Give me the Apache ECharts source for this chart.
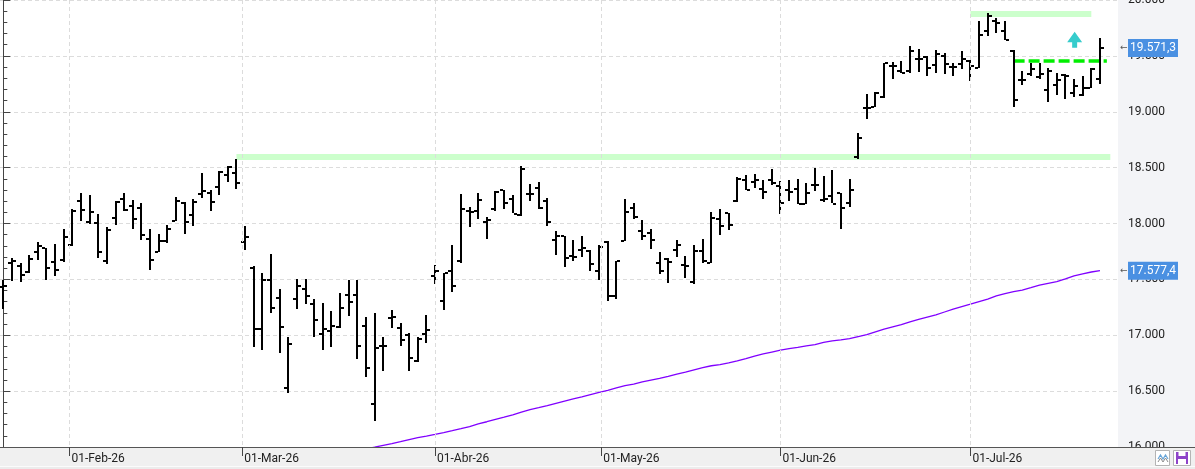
<!DOCTYPE html>
<html>
<head>
<meta charset="utf-8">
<title>Cotización diaria</title>
<script src="https://cdn.jsdelivr.net/npm/echarts@6/dist/echarts.min.js"></script>
<style>
html, body { margin: 0; padding: 0; background: #fff; }
#chart { width: 1195px; height: 469px; }
</style>
</head>
<body>
<div id="chart"></div>
<script>
// sesiones: 21-Ene-26 .. 22-Jul-26 (días hábiles sin festivos)
var firstDay = '2026-01-21';
var lastDay = '2026-07-22';
var holidays = ['2026-04-03', '2026-04-06', '2026-05-01'];
var monthNames = ['Ene', 'Feb', 'Mar', 'Abr', 'May', 'Jun', 'Jul', 'Ago', 'Sep', 'Oct', 'Nov', 'Dic'];

var opens = [17429, 17647, 17620, 17567, 17749, 17785, 17659, 17674, 17806, 18203,
    18009, 18006, 17662, 18051, 18221, 18161, 18140, 17862, 17749, 17839,
    18024, 18182, 18072, 18263, 18275, 18331, 18436, 18448, 17830, 17603,
    17056, 17496, 17334, 16528, 17325, 17415, 17280, 17014, 17039, 17077,
    17364, 17364, 17083, 16384, 16904, 17155, 17065, 17003, 16770, 17014,
    17534, 17307, 17579, 17665, 18110, 18113, 18012, 18131, 18296, 18215,
    18078, 18263, 18319, 18197, 17853, 17889, 17710, 17764, 17758, 17573,
    17836, 17349, 17842, 18140, 17937, 17913, 17647, 17683, 17767, 17629,
    17474, 17758, 17647, 18036, 18095, 18197, 18385, 18373, 18307, 18391,
    18340, 18301, 18310, 18176, 18346, 18212, 18242, 18272, 18185, 18594,
    19036, 19042, 19132, 19407, 19362, 19368, 19475, 19490, 19416, 19496,
    19398, 19425, 19454, 19392, 19723, 19813, 19720, 19544, 19281, 19341,
    19311, 19192, 19242, 19326, 19171, 19147, 19215, 19296];
var highs = [17498, 17692, 17647, 17722, 17830, 17785, 17821, 17955, 18131, 18275,
    18251, 18086, 17973, 18197, 18269, 18206, 18185, 17955, 17907, 17991,
    18233, 18191, 18215, 18454, 18296, 18469, 18517, 18579, 17979, 17624,
    17561, 17723, 17415, 16988, 17507, 17499, 17325, 17292, 17221, 17382,
    17490, 17490, 17167, 17203, 16985, 17227, 17113, 17024, 16985, 17185,
    17633, 17558, 17812, 18263, 18152, 18272, 18057, 18287, 18304, 18251,
    18511, 18352, 18373, 18224, 17937, 17892, 17853, 17892, 17764, 17806,
    17839, 17668, 18221, 18185, 18027, 17952, 17749, 17692, 17848, 17713,
    17809, 17862, 18107, 18131, 18098, 18418, 18430, 18445, 18385, 18490,
    18376, 18391, 18400, 18364, 18499, 18421, 18475, 18275, 18400, 18809,
    19162, 19174, 19436, 19445, 19451, 19586, 19559, 19496, 19556, 19526,
    19439, 19541, 19460, 19810, 19887, 19843, 19813, 19550, 19362, 19436,
    19436, 19395, 19347, 19335, 19296, 19317, 19395, 19663];
var lows = [17235, 17483, 17474, 17558, 17668, 17498, 17534, 17659, 17797, 18027,
    17991, 17689, 17644, 17985, 18104, 17946, 17853, 17585, 17746, 17833,
    18015, 17904, 17976, 18227, 18110, 18257, 18370, 18310, 17764, 16898,
    16874, 17197, 16838, 16489, 17242, 17277, 16982, 16868, 16901, 17071,
    17167, 16785, 16629, 16235, 16683, 17068, 16910, 16683, 16758, 16937,
    17466, 17230, 17393, 17644, 17973, 18036, 17859, 18110, 18137, 18086,
    18060, 18200, 18128, 17973, 17719, 17618, 17668, 17707, 17573, 17489,
    17304, 17325, 17842, 18042, 17848, 17773, 17549, 17468, 17698, 17519,
    17459, 17647, 17647, 17895, 17949, 18197, 18293, 18319, 18218, 18346,
    18077, 18206, 18176, 18176, 18290, 18185, 18176, 17952, 18146, 18579,
    18938, 19036, 19123, 19293, 19341, 19341, 19356, 19317, 19347, 19341,
    19320, 19380, 19275, 19392, 19678, 19708, 19640, 19042, 19236, 19317,
    19290, 19087, 19147, 19108, 19132, 19138, 19215, 19251];
var closes = [17444, 17668, 17543, 17683, 17800, 17603, 17588, 17880, 18116, 18122,
    18104, 17749, 17943, 18194, 18119, 18042, 17898, 17677, 17845, 17949,
    18200, 18015, 18191, 18293, 18194, 18463, 18505, 18364, 17878, 17056,
    17490, 17245, 17074, 16922, 17445, 17352, 17137, 17056, 17083, 17245,
    17298, 16904, 16707, 16886, 16904, 17161, 16958, 16797, 16970, 17047,
    17576, 17558, 17441, 18131, 18101, 18206, 18027, 18284, 18185, 18089,
    18490, 18266, 18137, 18009, 17889, 17695, 17698, 17779, 17638, 17794,
    17349, 17668, 18107, 18057, 17889, 17853, 17579, 17659, 17809, 17620,
    17758, 17662, 18051, 17982, 17991, 18394, 18296, 18385, 18281, 18361,
    18185, 18281, 18176, 18275, 18346, 18221, 18176, 18140, 18296, 18767,
    19036, 19171, 19436, 19410, 19350, 19544, 19475, 19395, 19520, 19430,
    19398, 19472, 19413, 19684, 19855, 19798, 19646, 19108, 19281, 19386,
    19335, 19362, 19281, 19317, 19227, 19215, 19386, 19571.3];

// media móvil larga (empieza bajo el eje)
var maStart = 42;
var maValues = [15982, 15998, 16015, 16030, 16048, 16067, 16084, 16098,
    16113, 16129, 16146, 16164, 16183, 16207, 16226, 16247, 16267, 16288,
    16313, 16335, 16352, 16370, 16391, 16411, 16430, 16449, 16469, 16488,
    16507, 16528, 16549, 16562, 16583, 16599, 16614, 16633, 16653, 16671,
    16691, 16710, 16727, 16738, 16753, 16770, 16791, 16814, 16833, 16850,
    16867, 16880, 16891, 16904, 16917, 16936, 16950, 16958, 16970, 16988,
    17005, 17031, 17055, 17075, 17095, 17120, 17142, 17163, 17183, 17208,
    17233, 17256, 17278, 17301, 17324, 17352, 17373, 17390, 17404, 17426,
    17449, 17465, 17479, 17505, 17532, 17549, 17566, 17577.4];

// niveles dibujados a mano en el gráfico
var supportLevel = 18600;
var topLevel = 19877;
var triggerLevel = 19452;
var yTicks = [16000, 16500, 17000, 17500, 18000, 18500, 19000, 19500, 20000];

function tradingDays() {
    var out = [];
    var d = new Date(firstDay + 'T00:00:00Z');
    var end = Date.parse(lastDay + 'T00:00:00Z');
    while (d.getTime() <= end) {
        var iso = d.toISOString().slice(0, 10);
        var wd = d.getUTCDay();
        if (wd !== 0 && wd !== 6 && holidays.indexOf(iso) < 0) out.push(iso);
        d.setUTCDate(d.getUTCDate() + 1);
    }
    return out;
}

var days = tradingDays();

// marca de mes en el día 1 (interpolada si es festivo/fin de semana)
var monthTicks = [];
var monthLabels = {};
for (var i = 1; i < days.length; i++) {
    if (days[i].slice(5, 7) !== days[i - 1].slice(5, 7)) {
        var cur = Date.parse(days[i]);
        var prev = Date.parse(days[i - 1]);
        var first = Date.parse(days[i].slice(0, 8) + '01');
        var pos = i - (cur - first) / (cur - prev);
        monthTicks.push(pos);
        monthLabels[pos.toFixed(3)] = '01-' + monthNames[+days[i].slice(5, 7) - 1] + '-' + days[i].slice(2, 4);
    }
}

function fmtThousands(v, dec) {
    var neg = v < 0;
    var s = Math.abs(v).toFixed(dec);
    var parts = s.split('.');
    var int = parts[0].replace(/\B(?=(\d{3})+(?!\d))/g, '.');
    return (neg ? '-' : '') + int + (parts[1] ? ',' + parts[1] : '');
}

var ohlc = closes.map(function (c, i) {
    return [i, opens[i], highs[i], lows[i], c];
});
var maData = maValues.map(function (v, k) {
    return [maStart + k, v];
});
var lastClose = closes[closes.length - 1];
var lastMa = maValues[maValues.length - 1];
var xMin = -0.382;
var xMax = 129.09;

function renderOhlc(params, api) {
    var i = api.value(0);
    var top = api.coord([i, api.value(2)]);
    var bot = api.coord([i, api.value(3)]);
    var op = api.coord([i, api.value(1)]);
    var cl = api.coord([i, api.value(4)]);
    var x = Math.round(top[0]);
    var style = { fill: '#000' };
    return {
        type: 'group',
        children: [
            { type: 'rect', shape: { x: x - 1, y: Math.round(top[1]), width: 2, height: Math.max(1, Math.round(bot[1] - top[1])) }, style: style },
            { type: 'rect', shape: { x: x - 4, y: Math.round(op[1]) - 1, width: 3, height: 2 }, style: style },
            { type: 'rect', shape: { x: x + 1, y: Math.round(cl[1]) - 1, width: 3, height: 2 }, style: style }
        ]
    };
}

var graphics = [
    { id: 'panelR', type: 'rect', z: -10, shape: { x: 1118, y: 0, width: 77, height: 447 }, style: { fill: '#f3f4f7' } },
    { id: 'panelB', type: 'rect', z: 50, shape: { x: 0, y: 447.5, width: 1195, height: 19 }, style: { fill: '#f0f0f0' } },
    { id: 'panelB2', type: 'rect', z: 50, shape: { x: 0, y: 466, width: 1195, height: 1 }, style: { fill: '#fbfbfb' } },
    { id: 'panelB3', type: 'rect', z: 50, shape: { x: 0, y: 467, width: 1195, height: 2 }, style: { fill: '#ececec' } },
    { id: 'baseLine', type: 'line', z: 51, shape: { x1: 0, y1: 447.5, x2: 1195, y2: 447.5 }, style: { stroke: '#555', lineWidth: 1 } },
    { id: 'btn1', type: 'rect', z: 51, shape: { x: 1155.5, y: 450.5, width: 14, height: 15 }, style: { fill: '#fff', stroke: '#b4b4b4' } },
    { id: 'btn1a', type: 'polyline', z: 52, shape: { points: [[1158, 459], [1160.5, 455], [1163, 459], [1165.5, 455], [1168, 459]] }, style: { stroke: '#6aa6d8', lineWidth: 1.2, fill: null } },
    { id: 'btn1b', type: 'polyline', z: 52, shape: { points: [[1158, 462], [1160.5, 458], [1163, 462], [1165.5, 458], [1168, 462]] }, style: { stroke: '#8c8c8c', lineWidth: 1, fill: null } },
    { id: 'btn2', type: 'rect', z: 51, shape: { x: 1173.5, y: 450.5, width: 17, height: 15 }, style: { fill: '#fff', stroke: '#b4b4b4' } },
    { id: 'btn2a', type: 'rect', z: 52, shape: { x: 1176, y: 452, width: 12, height: 12 }, style: { fill: '#8e44c9' } },
    { id: 'btn2b', type: 'rect', z: 53, shape: { x: 1178.5, y: 452, width: 7, height: 4 }, style: { fill: '#fff' } },
    { id: 'btn2c', type: 'rect', z: 53, shape: { x: 1178, y: 459, width: 8, height: 5 }, style: { fill: '#fff' } }
];

var myChart = echarts.init(document.getElementById('chart'), null, { renderer: 'canvas' });
var option = {
    animation: false,
    backgroundColor: '#fff',
    textStyle: { fontFamily: 'Roboto' },
    grid: { left: 0, right: 77, top: 0, bottom: 22, outerBoundsMode: 'none', containLabel: false },
    graphic: graphics,
    xAxis: {
        type: 'value',
        z: 60,
        min: xMin,
        max: xMax,
        axisLine: { show: true, lineStyle: { color: '#555' } },
        axisTick: {
            show: true,
            length: 9,
            customValues: monthTicks,
            lineStyle: { color: '#444' }
        },
        axisLabel: {
            customValues: monthTicks,
            align: 'left',
            margin: 6,
            padding: [0, 0, 0, 2],
            color: '#222',
            fontSize: 12,
            fontFamily: 'Roboto',
            formatter: function (v) {
                return monthLabels[v.toFixed(3)] || '';
            }
        },
        splitLine: {
            show: true,
            lineStyle: { color: '#dcdcdc', type: [4, 3] }
        }
    },
    yAxis: {
        type: 'value',
        position: 'right',
        min: 16000,
        max: 20000,
        interval: 500,
        axisLine: { show: true, lineStyle: { color: '#444' } },
        axisTick: { show: true, length: 7, lineStyle: { color: '#444' } },
        minorTick: { show: true, splitNumber: 5, length: 4, lineStyle: { color: '#444' } },
        axisLabel: {
            margin: 10,
            color: '#222',
            fontSize: 12,
            fontFamily: 'Roboto',
            formatter: function (v) {
                return yTicks.indexOf(v) >= 0 ? fmtThousands(v, 0) : '';
            }
        },
        splitLine: {
            show: true,
            lineStyle: { color: '#dcdcdc', type: [4, 3] }
        }
    },
    series: [
        {
            name: 'Precio',
            type: 'custom',
            z: 3,
            renderItem: renderOhlc,
            clip: true,
            encode: { x: 0, y: [1, 2, 3, 4] },
            data: ohlc,
            markLine: {
                silent: true,
                z: 1,
                symbol: ['none', 'none'],
                label: { show: false },
                data: [
                    [
                        { coord: [27, supportLevel], lineStyle: { color: '#ccffcc', width: 6, type: 'solid', cap: 'butt' } },
                        { coord: [128.2, supportLevel] }
                    ],
                    [
                        { coord: [112, topLevel], lineStyle: { color: '#ccffcc', width: 6, type: 'solid', cap: 'butt' } },
                        { coord: [126, topLevel] }
                    ],
                    [
                        { coord: [117, triggerLevel], lineStyle: { color: '#00ee00', width: 3.5, type: [11, 4], cap: 'butt' } },
                        { coord: [127.8, triggerLevel] }
                    ]
                ]
            },
            markPoint: {
                silent: true,
                data: [{
                    coord: [124.07, 19645],
                    symbol: 'path://M7.5,0 L15,10.7 L10,10.7 L10,16 L5,16 L5,10.7 L0,10.7 Z',
                    symbolSize: [15, 16],
                    itemStyle: { color: '#36cccc' },
                    label: { show: false }
                }]
            }
        },
        {
            name: 'Media',
            type: 'line',
            z: 2,
            showSymbol: false,
            clip: true,
            data: maData,
            lineStyle: { color: '#8000ff', width: 1.3 }
        }
    ]
};
myChart.setOption(option);

// etiquetas de último valor junto al eje derecho
function addTag(key, value) {
    var p = myChart.convertToPixel({ xAxisIndex: 0, yAxisIndex: 0 }, [xMax, value]);
    graphics.push({
        id: key + 'Arrow', type: 'text', z: 80, x: p[0] + 2, y: p[1],
        style: { text: '\u2190', fill: '#555', font: '9px "DejaVu Sans"', verticalAlign: 'middle' }
    });
    graphics.push({
        id: key + 'Box', type: 'text', z: 80, x: p[0] + 10, y: p[1],
        style: {
            text: fmtThousands(value, 1), fill: '#fff', font: '12px Roboto',
            backgroundColor: '#4a90e2', padding: [3, 2, 3, 2], verticalAlign: 'middle'
        }
    });
}
addTag('close', lastClose);
addTag('ma', lastMa);
myChart.setOption({ graphic: graphics });
</script>
</body>
</html>
